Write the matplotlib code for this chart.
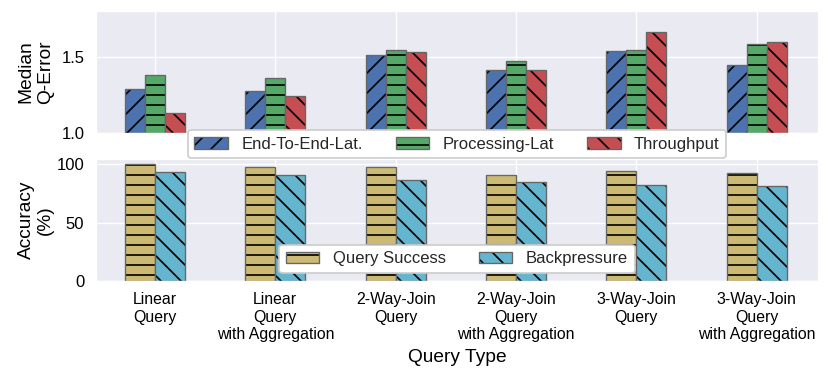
import numpy as np
import matplotlib.pyplot as plt
import seaborn as sns
from matplotlib.legend_handler import HandlerTuple

queries = ['Linear\nQuery', 'Linear\nQuery\nwith Aggregation', '2-Way-Join\nQuery',
           '2-Way-Join\nQuery\nwith Aggregation', '3-Way-Join\nQuery',
           '3-Way-Join\nQuery\nwith Aggregation']

# median q-error per query type
e2e_lat = [1.29, 1.275, 1.51, 1.41, 1.537, 1.446]
proc_lat = [1.38, 1.36, 1.544, 1.47, 1.544, 1.585]
throughput = [1.13, 1.24, 1.533, 1.415, 1.66, 1.598]

# accuracy (%) per query type
query_success = [100, 97.7, 97.7, 91.3, 94.0, 92.7]
backpressure = [93.6, 91.3, 87.0, 85.0, 82.7, 81.5]

sns.set_style('darkgrid')
plt.rcParams['font.family'] = ['Liberation Sans', 'DejaVu Sans']
plt.rcParams['hatch.linewidth'] = 1.0
pal = sns.color_palette('deep')

fig, (ax1, ax2) = plt.subplots(2, 1, figsize=(830/120, 379/120), dpi=120, sharex=True)
fig.subplots_adjust(left=0.1157, right=0.9855, top=0.971, bottom=0.2594, hspace=0.21)

x = np.arange(len(queries))
edge = '0.4'


def hatched_bar(ax, pos, vals, width, color, hatch, label):
    # hatch in black, outline in grey -> two layers
    h = ax.bar(pos, vals, width, color=color, hatch=hatch, edgecolor='black', linewidth=0, label=label)
    o = ax.bar(pos, vals, width, fill=False, edgecolor=edge, linewidth=0.8)
    return (h, o)


w = 0.5 / 3
top_series = [(e2e_lat, pal[0], '//', 'End-To-End-Lat.'),
              (proc_lat, pal[2], '--', 'Processing-Lat'),
              (throughput, pal[3], '\\\\', 'Throughput')]
handles1 = []
for i, (vals, c, hatch, lab) in enumerate(top_series):
    handles1.append(hatched_bar(ax1, x + (i - 1) * w, vals, w, c, hatch, lab))
ax1.set_ylim(1.0, 1.8)
ax1.set_yticks([1.0, 1.5])
ax1.set_ylabel('Median\nQ-Error', fontsize=11.5)
ax1.yaxis.set_label_coords(-0.058, 0.5)
ax1.set_zorder(3)
ax1.legend(handles1, [s[3] for s in top_series], ncol=3, loc='center',
           bbox_to_anchor=(0.5, -0.09), fontsize=10, facecolor='white', framealpha=1,
           handler_map={tuple: HandlerTuple(ndivide=1, pad=0)})

w2 = 0.25
bot_series = [(query_success, pal[8], '--', 'Query Success'),
              (backpressure, pal[9], '\\\\', 'Backpressure')]
handles2 = []
for i, (vals, c, hatch, lab) in enumerate(bot_series):
    handles2.append(hatched_bar(ax2, x + (i - 0.5) * w2, vals, w2, c, hatch, lab))
ax2.set_ylim(0, 105)
ax2.set_yticks([0, 50, 100])
ax2.set_ylabel('Accuracy\n(%)', fontsize=11.5)
ax2.yaxis.set_label_coords(-0.058, 0.5)
ax2.legend(handles2, [s[3] for s in bot_series], ncol=2, loc='center',
           bbox_to_anchor=(0.5, 0.18), fontsize=10, facecolor='white', framealpha=1,
           handler_map={tuple: HandlerTuple(ndivide=1, pad=0)})

ax2.set_xlim(-0.49, 5.51)
ax2.set_xticks(x)
ax2.set_xticklabels(queries, fontsize=9.5)
ax2.set_xlabel('Query Type', fontsize=11.5)

for ax in (ax1, ax2):
    ax.tick_params(axis='y', labelsize=10, colors='black')
    ax.tick_params(axis='x', colors='black')
    ax.yaxis.label.set_color('black')
ax2.xaxis.label.set_color('black')

plt.savefig('out.png', dpi=120)
